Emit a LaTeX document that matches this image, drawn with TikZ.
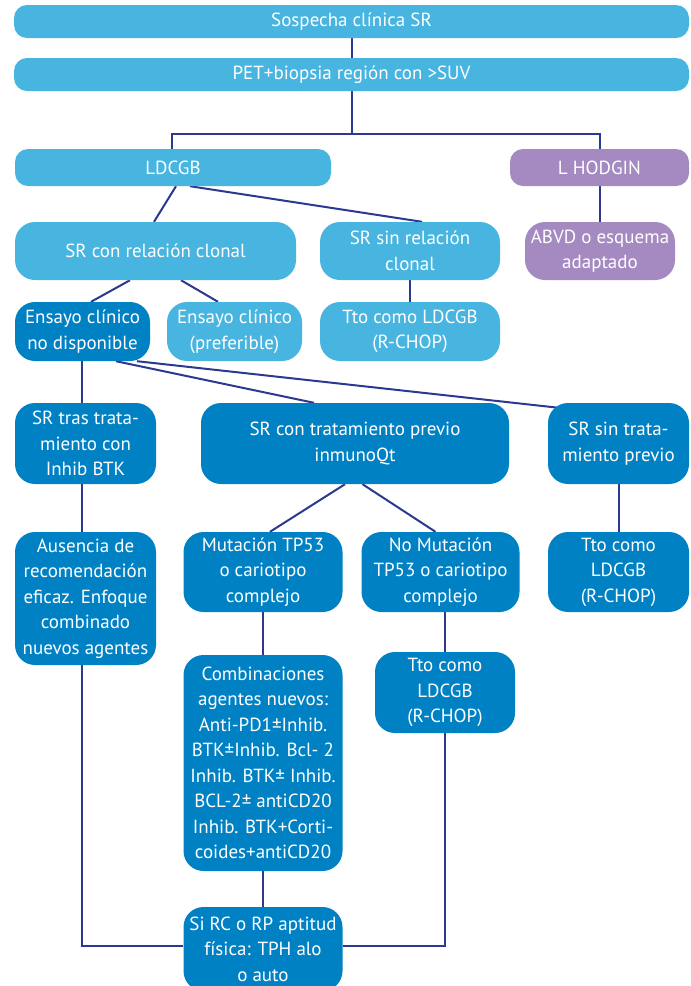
\documentclass[tikz,border=0pt]{standalone}
\usepackage{fontspec}
\setmainfont{PT Sans}
\usetikzlibrary{calc}
\definecolor{lightb}{HTML}{47B5E0}
\definecolor{darkb}{HTML}{0081C4}
\definecolor{purp}{HTML}{A48AC0}
\definecolor{navy}{HTML}{2B3990}
\pgfdeclarelayer{bg}
\pgfsetlayers{bg,main}
\begin{document}
\begin{tikzpicture}[x=1pt,y=-1pt,
  bx/.style={rounded corners=#1, text=white, align=center, inner sep=0pt,
    font=\fontsize{19}{25.5}\selectfont},
  bx/.default=20pt,
  lbx/.style={bx=13pt, fill=lightb},
  lbr/.style={bx=20pt, fill=lightb},
  dbx/.style={bx=20pt, fill=darkb},
  conn/.style={draw=navy, line width=2pt}]
\useasboundingbox (0,0) rectangle (691,986);
% top
\node[lbx, minimum width=675pt, minimum height=33pt] (sos) at (351.5,21.5) {Sospecha clínica SR};
\node[lbx, minimum width=675pt, minimum height=33pt] (pet) at (351.5,74.5) {PET+biopsia región con >SUV};
\node[lbx, minimum width=316pt, minimum height=37pt] (ldcgb) at (173,167.5) {LDCGB};
\node[bx=13pt, fill=purp, minimum width=179pt, minimum height=37pt] (hod) at (599.5,167.5) {L HODGIN};
% row 2
\node[lbr, minimum width=281pt, minimum height=58pt] (srcon) at (155.5,251) {SR con relación clonal};
\node[lbr, minimum width=180pt, minimum height=58pt] (srsin) at (410,251) {SR sin relación\\clonal};
\node[bx=20pt, fill=purp, minimum width=150pt, minimum height=58pt] (abvd) at (600,251) {ABVD o esquema\\adaptado};
% row 3
\node[dbx, minimum width=135pt, minimum height=59pt] (ensno) at (82.5,331.5) {Ensayo clínico\\no disponible};
\node[lbr, minimum width=135pt, minimum height=59pt] (enspref) at (234.5,331.5) {Ensayo clínico\\(preferible)};
\node[lbr, minimum width=180pt, minimum height=59pt] (ttoa) at (410,331.5) {Tto como LDCGB\\(R-CHOP)};
% row 4
\node[dbx, minimum width=141pt, minimum height=81pt] (srtras) at (85.5,443.5) {SR tras trata-\\miento con\\Inhib BTK};
\node[dbx, minimum width=308pt, minimum height=81pt] (srcont) at (355,443.5) {SR con tratamiento previo\\inmunoQt};
\node[dbx, minimum width=141pt, minimum height=81pt] (srsint) at (618.5,443.5) {SR sin trata-\\miento previo};
% row 5
\node[dbx, minimum width=141pt, minimum height=133pt] (aus) at (85.5,598.5) {Ausencia de\\recomendación\\eficaz. Enfoque\\combinado\\nuevos agentes};
\node[dbx, minimum width=159pt, minimum height=80pt] (mut) at (263,572) {Mutación TP53\\o cariotipo\\complejo};
\node[dbx, minimum width=158pt, minimum height=80pt] (nomut) at (440.5,572) {No Mutación\\TP53 o cariotipo\\complejo};
\node[dbx, minimum width=141pt, minimum height=80pt] (ttoc) at (618.5,572) {Tto como\\LDCGB\\(R-CHOP)};
% row 6
\node[dbx, minimum width=159pt, minimum height=216pt] (comb) at (263,763) {Combinaciones\\agentes nuevos:\\Anti-PD1±Inhib.\\BTK±Inhib. Bcl- 2\\Inhib. BTK± Inhib.\\BCL-2± antiCD20\\Inhib. BTK+Corti-\\coides+antiCD20};
\node[dbx, minimum width=140pt, minimum height=81pt] (ttob) at (445,692.5) {Tto como\\LDCGB\\(R-CHOP)};
\node[dbx, minimum width=159pt, minimum height=84pt] (si) at (263,949) {Si RC o RP aptitud\\física: TPH alo\\o auto};
% connectors
\begin{pgfonlayer}{bg}
\fill[white] (0,0) rectangle (691,986);
\draw[conn] (sos.south) -- (pet.north);
\draw[conn] (pet.south) -- ++(0,43) coordinate (hb);
\draw[conn] (ldcgb.north -| 171.5,0) |- (hb) -| (hod.north);
\draw[conn] ($(ldcgb.south)+(3,0)$) -- ($(srcon.north)+(-1.5,0)$);
\draw[conn] ($(ldcgb.south)+(17,0)$) -- ($(srsin.north)+(12,0)$);
\draw[conn] (hod.south) -- (abvd.north -| hod.south);
\draw[conn] ($(srcon.south)+(-25.5,0)$) -- ($(ensno.north)+(8.5,0)$);
\draw[conn] ($(srcon.south)+(25.5,0)$) -- ($(enspref.north)+(-16.5,0)$);
\draw[conn] (srsin.south) -- (ttoa.north);
\draw[conn] ($(ensno.south)+(-0.5,0)$) -- ($(srtras.north)+(-3.5,0)$);
\draw[conn] ($(ensno.south)+(33.5,0)$) -- ($(srcont.north)+(-41,0)$);
\draw[conn] ($(ensno.south)+(54.5,0)$) -- ($(srsint.north west)+(11,5)$);
\draw[conn] ($(srtras.south)+(-3.5,0)$) -- ($(aus.north)+(-3.5,0)$);
\draw[conn] ($(srcont.south)+(-10,0)$) -- ($(mut.north)+(7,0)$);
\draw[conn] ($(srcont.south)+(7.5,0)$) -- ($(nomut.north)+(-5,0)$);
\draw[conn] (srsint.south) -- (ttoc.north);
\draw[conn] (mut.south) -- (comb.north);
\draw[conn] ($(nomut.south)+(4.5,0)$) -- (ttob.north);
\draw[conn] (comb.south) -- (si.north);
\draw[conn] ($(aus.south)+(-3.5,0)$) |- ($(si.west)+(0,-3)$);
\draw[conn] (ttob.south) |- ($(si.east)+(0,-3)$);
\end{pgfonlayer}
\end{tikzpicture}
\end{document}
